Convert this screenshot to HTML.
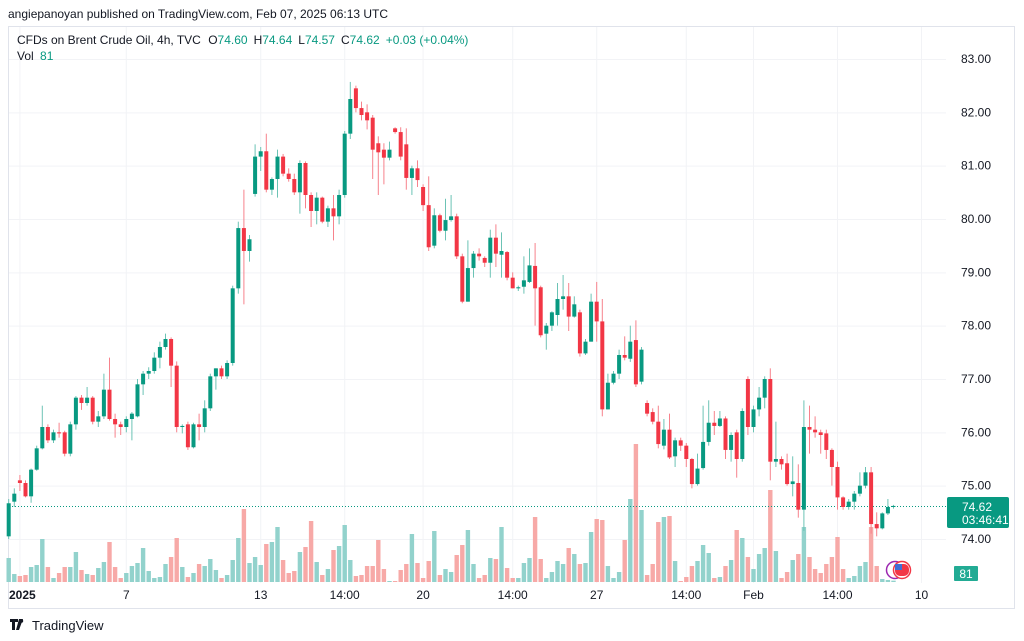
<!DOCTYPE html>
<html><head><meta charset="utf-8"><style>
html,body{margin:0;padding:0;background:#fff;}
svg{display:block;font-family:"Liberation Sans",sans-serif;}
</style></head><body>
<svg id="c" width="1024" height="641" viewBox="0 0 1024 641" xmlns="http://www.w3.org/2000/svg">
<text x="8" y="18" font-size="12" fill="#131722">angiepanoyan published on TradingView.com, Feb 07, 2025 06:13 UTC</text>
<rect x="8.5" y="26.5" width="1006" height="582" fill="none" stroke="#e0e3eb"/>
<g id="grid"></g>
<g id="vols"></g>
<line x1="9" x2="946" y1="506.5" y2="506.5" stroke="#089981" stroke-dasharray="1,2"/>
<g id="candles"></g>
<g id="yaxis"></g>
<g id="xaxis"></g>
<text x="17" y="44" font-size="12" fill="#131722">CFDs on Brent Crude Oil, 4h, TVC <tspan dx="4">O</tspan><tspan fill="#089981">74.60</tspan><tspan dx="6">H</tspan><tspan fill="#089981">74.64</tspan><tspan dx="6">L</tspan><tspan fill="#089981">74.57</tspan><tspan dx="6">C</tspan><tspan fill="#089981">74.62</tspan><tspan dx="6" fill="#089981">+0.03 (+0.04%)</tspan></text>
<text x="17" y="60" font-size="12" fill="#131722">Vol <tspan dx="3" fill="#089981">81</tspan></text>
<g>
<rect x="947" y="497" width="62" height="31" rx="2" fill="#089981"/>
<text x="962" y="511" font-size="12" fill="#fff">74.62</text>
<text x="962" y="524" font-size="12" fill="#fff">03:46:41</text>
</g>
<g>
<rect x="954" y="566" width="24" height="15" rx="1" fill="#22ab94"/>
<text x="966" y="578" font-size="12" fill="#fff" text-anchor="middle">81</text>
</g>
<g>
<circle cx="895" cy="570" r="8.5" fill="#fff" stroke="#9c27b0" stroke-width="1.5"/>
<circle cx="902" cy="570" r="8.5" fill="#fff" stroke="#f23645" stroke-width="1.5"/>
<rect x="895" y="564" width="14" height="12" rx="5" fill="#f23645"/>
<rect x="895" y="564" width="7" height="6" fill="#3f6fd6"/>
</g>
<g>
<path d="M10 619h8v3h-3v8h-3v-8h-2z M19 619h4l-4 11h-3z" fill="#131722"/>
<circle cx="21.5" cy="621" r="1.7" fill="#131722"/>
<text x="32" y="630" font-size="13" fill="#131722">TradingView</text>
</g>
</svg>
<script>
const opens=[74.05,74.7,75.1,75.05,74.8,75.3,75.7,76.1,75.85,76.0,76.0,75.6,76.15,76.65,76.55,76.65,76.2,76.3,76.8,76.25,76.15,76.1,76.25,76.3,76.9,77.1,77.15,77.4,77.6,77.75,77.25,76.1,76.15,75.72,76.15,76.1,76.45,77.05,77.2,77.05,77.3,78.7,79.83,79.4,80.47,81.17,81.27,80.55,80.75,81.17,80.85,80.75,80.5,81.05,80.45,80.15,80.4,79.95,80.2,80.05,80.45,81.6,82.45,82.08,82.0,81.9,81.42,81.3,81.15,81.7,81.63,81.4,80.77,80.95,80.6,80.26,79.5,80.07,79.78,79.98,80.05,79.3,78.45,79.08,79.35,79.27,79.18,79.65,79.33,79.38,78.9,78.7,78.73,78.82,79.12,78.72,77.85,78.0,78.2,78.5,78.55,78.17,78.25,77.48,77.7,78.45,78.08,76.43,76.93,77.1,77.45,77.38,77.73,76.95,76.55,76.38,76.2,75.75,76.05,75.55,75.85,75.75,75.5,75.03,75.33,75.82,76.18,76.12,76.26,75.67,76.0,75.5,77.0,76.1,76.43,76.65,77.0,75.45,75.5,75.42,75.03,75.05,74.55,76.1,76.05,76.0,75.98,75.67,75.35,74.78,74.6,74.7,74.85,75.0,75.25,74.28,74.2,74.48,74.6];
const closes=[74.67,74.85,75.05,74.8,75.3,75.7,76.1,75.85,76.0,75.98,75.6,76.15,76.65,76.55,76.65,76.2,76.3,76.8,76.25,76.15,76.1,76.25,76.35,76.9,77.1,77.15,77.4,77.6,77.75,77.25,76.1,76.12,75.72,76.15,76.1,76.45,77.05,77.2,77.05,77.3,78.7,79.83,79.4,79.62,81.17,81.27,80.55,80.75,81.17,80.85,80.75,80.5,81.05,80.45,80.15,80.4,79.95,80.2,80.05,80.45,81.6,82.25,82.08,81.95,81.85,81.3,81.25,81.15,81.3,81.63,81.17,80.77,80.95,80.73,80.26,79.47,80.07,79.78,79.98,80.05,79.3,78.45,79.08,79.35,79.3,79.18,79.65,79.35,79.4,78.9,78.7,78.72,78.85,79.13,78.7,77.82,78.0,78.25,78.5,78.55,78.17,78.4,77.48,77.7,78.45,78.08,76.43,76.93,77.1,77.45,77.4,77.7,76.9,77.55,76.35,76.2,75.78,76.05,75.53,75.85,75.75,75.5,75.03,75.32,75.82,76.18,76.12,76.26,75.67,75.95,75.5,76.4,76.1,76.43,76.65,77.0,75.45,75.5,75.4,75.03,75.08,74.55,76.1,76.05,76.0,75.95,75.67,75.35,74.78,74.6,74.7,74.85,75.0,75.25,74.28,74.2,74.48,74.6,74.62];
const highs=[74.75,74.95,75.2,75.1,75.32,75.75,76.5,76.15,76.05,76.18,76.03,76.2,76.68,76.7,76.85,76.68,76.4,77.1,77.4,76.35,76.2,76.3,76.38,77.0,77.15,77.22,77.5,77.7,77.85,77.78,77.33,76.15,76.2,76.18,76.35,76.6,77.1,77.2,77.25,77.35,78.75,79.95,80.55,79.7,81.4,81.35,81.6,80.78,81.3,81.22,80.95,80.85,81.1,81.08,80.5,80.5,80.42,80.25,80.45,80.55,81.65,82.57,82.5,82.2,82.15,81.95,81.55,81.42,81.45,81.72,81.72,81.7,81.0,81.1,80.65,80.8,80.2,80.1,80.38,80.45,80.1,79.35,79.6,79.4,79.45,79.3,79.8,79.9,79.75,79.4,79.0,78.75,79.3,79.45,79.55,78.75,78.05,78.27,78.8,78.95,78.8,78.55,78.3,77.75,78.6,78.82,78.5,77.1,77.15,77.55,77.8,78.0,78.1,77.6,76.6,76.45,76.5,76.25,76.35,75.9,75.9,75.8,75.52,75.6,76.5,76.6,76.4,76.4,76.3,76.0,76.05,76.45,77.05,76.5,76.85,77.05,77.2,76.2,75.55,75.6,75.55,75.4,76.6,76.5,76.3,76.05,76.05,75.7,75.45,74.8,74.75,74.9,75.25,75.35,75.35,74.5,74.5,74.75,74.64];
const lows=[74.0,74.6,74.9,74.78,74.68,75.28,75.68,75.8,75.8,75.9,75.55,75.55,76.05,76.42,76.5,76.15,76.1,76.25,76.22,75.9,75.95,76.0,75.85,76.28,76.7,77.0,77.1,77.2,77.55,76.85,76.0,75.98,75.67,75.7,75.85,76.0,76.4,76.8,77.0,77.0,77.25,78.6,78.4,79.2,80.42,80.9,80.5,80.45,80.4,80.8,80.7,80.45,80.1,80.2,79.85,79.9,79.92,79.85,79.6,79.9,80.4,81.5,82.0,81.85,81.68,80.75,80.45,80.65,81.1,81.6,81.1,80.55,80.45,80.6,80.15,79.4,79.45,79.75,79.6,79.95,79.25,78.42,78.45,78.9,79.22,79.1,78.9,79.1,78.9,78.85,78.7,78.65,78.6,78.8,78.0,77.78,77.55,77.9,78.0,78.3,77.9,78.15,77.42,77.45,77.7,77.7,76.3,76.43,76.9,77.0,77.35,77.32,76.85,76.9,76.3,76.15,75.7,75.68,75.5,75.35,75.65,75.35,74.95,75.0,75.3,75.75,75.95,76.1,75.5,75.45,75.15,75.45,75.95,76.0,76.3,76.45,75.1,75.35,75.3,75.0,74.8,74.4,74.15,75.6,75.9,75.6,75.5,75.0,74.55,74.55,74.55,74.55,74.8,74.95,74.1,74.05,74.18,74.45,74.57];
const volumes=[24,8,6,7,15,17,43,15,4,9,15,15,30,12,8,7,14,20,40,15,4,9,16,19,34,11,4,5,18,25,44,15,5,9,18,16,23,12,4,7,22,44,73,19,25,17,38,40,55,22,9,11,30,35,61,20,7,13,32,36,57,22,6,7,16,16,42,13,1,1,12,18,48,19,4,21,51,7,13,10,27,37,52,18,4,7,24,23,55,14,4,4,19,24,65,23,4,10,21,18,34,28,18,19,50,63,62,16,4,10,42,83,138,72,7,18,60,65,66,21,1,5,16,21,37,29,4,5,16,22,52,44,25,13,28,34,92,31,4,10,22,28,55,25,13,9,18,25,45,13,4,6,16,20,55,16,3,2,1.35];
const priceTicks=[83,82,81,80,79,78,77,76,75,74];
const timeLabels=["2025","7","13","14:00","20","14:00","27","14:00","Feb","14:00","10"];
const timeIndex=[2,21,45,60,74,90,105,121,133,148,163];

const NS="http://www.w3.org/2000/svg";
const xOf=i=>8.7+5.6*i;
const yOf=p=>59+(83-p)*53.333;
const vY=v=>582-v;
function mk(tag,attrs,parent){const e=document.createElementNS(NS,tag);for(const k in attrs)e.setAttribute(k,attrs[k]);parent.appendChild(e);return e;}
const grid=document.getElementById('grid'),yax=document.getElementById('yaxis'),xax=document.getElementById('xaxis');
priceTicks.forEach(p=>{
  const l=mk('line',{x1:9,x2:946,y1:yOf(p)+0.5,y2:yOf(p)+0.5,stroke:'#f2f3f6'},grid);
  
  
  const t=mk('text',{x:961,y:yOf(p)+4,'font-size':12,fill:'#131722'},yax);
  t.textContent=p.toFixed(2);
  
  
});
timeLabels.forEach((s,k)=>{
  const x=xOf(timeIndex[k]);
  const l=mk('line',{x1:x,x2:x,y1:27,y2:583,stroke:'#f2f3f6'},grid);
  
  
  const t=mk('text',{x:k===0?9:x,y:599,'font-size':12,fill:'#131722','text-anchor':k===0?'start':'middle','font-weight':k===0||s==='Feb'?'bold':'normal'},xax);
  if(s==='Feb')t.setAttribute('font-weight','normal');
  t.textContent=s;
  
  
});
const vg=document.getElementById('vols'),cg=document.getElementById('candles');
for(let i=0;i<opens.length;i++){
  const up=closes[i]>=opens[i];
  const x=xOf(i);
  const vb=mk('rect',{x:x-2.2,y:vY(volumes[i]),width:4.4,height:volumes[i],fill:up?'#92d2cc':'#f7a9a7'},vg);
  
  
  const col=up?'#089981':'#f23645';
  const w=mk('line',{x1:x,x2:x,y1:yOf(highs[i]),y2:yOf(lows[i]),stroke:up?'#6cc3b5':'#f7828c','stroke-width':1},cg);
  
  
  const top=yOf(Math.max(opens[i],closes[i])),bot=yOf(Math.min(opens[i],closes[i]));
  const b=mk('rect',{x:x-2,y:top,width:4,height:Math.max(1,bot-top),fill:col},cg);
  
  
}
</script>
</body></html>
